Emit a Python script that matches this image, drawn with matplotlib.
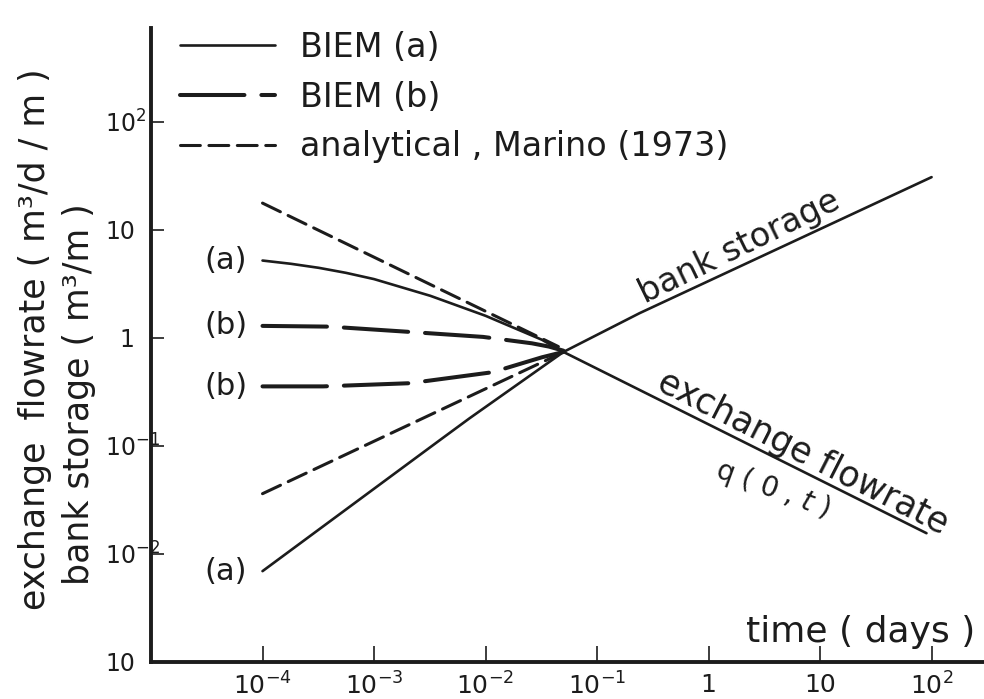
#!/usr/bin/env python

import numpy as np
import matplotlib.pyplot as plt

# exchange flowrate q(0,t)
t_q_a = [1e-4, 1.8e-4, 3.2e-4, 5.6e-4, 1e-3, 3.2e-3, 1e-2, 3.2e-2, 5e-2, 90]
q_a = [5.2, 4.85, 4.45, 4.0, 3.5, 2.45, 1.6, 0.96, 0.74, 0.0155]
t_q_b = [1e-4, 4e-4, 1.95e-3, 9.5e-3, 0.026, 0.037, 0.05]
q_b = [1.29, 1.27, 1.14, 1.02, 0.89, 0.83, 0.76]
t_q_an = [1e-4, 0.045]
q_an = [17.7, 0.83]

# bank storage
t_s_a = [1e-4, 3.9e-3, 7.2e-3, 5e-2, 0.24, 100]
s_a = [0.0069, 0.113, 0.18, 0.74, 1.69, 30.8]
t_s_b = [1e-4, 3.5e-4, 2.1e-3, 0.0115, 0.032, 0.05]
s_b = [0.355, 0.355, 0.38, 0.48, 0.66, 0.74]
t_s_an = [1e-4, 0.045]
s_an = [0.036, 0.70]

xticks = [1e-4, 1e-3, 1e-2, 1e-1, 1, 10, 100]
xticklabels = [r"$10^{-4}$", r"$10^{-3}$", r"$10^{-2}$", r"$10^{-1}$", "1", "10", r"$10^{2}$"]
yticks = [1e-3, 1e-2, 1e-1, 1, 10, 100]
yticklabels = ["10", r"$10^{-2}$", r"$10^{-1}$", "\u20071", "10", r"$10^{2}$"]

def main():
    plt.rcParams["font.family"] = "DejaVu Sans"
    plt.rcParams["mathtext.fontset"] = "dejavusans"
    ink = "#1c1c1c"

    fig = plt.figure(figsize=(9.84, 6.99), dpi=100)
    ax = fig.add_axes([151/984, 37.3/699, (984-151)/984, (661.7-28)/699])
    ax.set_xscale("log")
    ax.set_yscale("log")
    ax.set_xlim(1e-5, 10**2.47)
    ax.set_ylim(1e-3, 10**2.87)

    sty_a = dict(color=ink, lw=1.9, ls="-", solid_capstyle="round")
    sty_b = dict(color=ink, lw=2.9, ls=(0, (16, 4.2)), dash_capstyle="round")
    sty_an = dict(color=ink, lw=2.2, ls=(0, (6.5, 2.8)), dash_capstyle="round")

    la, = ax.plot(t_q_a, q_a, **sty_a)
    ax.plot(t_s_a, s_a, **sty_a)
    lb, = ax.plot(t_q_b, q_b, **sty_b)
    ax.plot(t_s_b, s_b, **sty_b)
    lan, = ax.plot(t_q_an, q_an, **sty_an)
    ax.plot(t_s_an, s_an, **sty_an)

    # curve tags at the left end
    for t, v, tag in [(t_q_a[0], q_a[0], "(a)"), (t_q_b[0], q_b[0], "(b)"),
                      (t_s_b[0], s_b[0], "(b)"), (t_s_a[0], s_a[0], "(a)")]:
        ax.annotate(tag, (t, v), xytext=(-11, 0), textcoords="offset points",
                    ha="right", va="center", fontsize=22, color=ink)

    ax.text(1.9, 6.9, "bank storage", rotation=26, ha="center", va="center",
            rotation_mode="anchor", fontsize=24, color=ink)
    ax.text(7.0, 0.0857, "exchange flowrate", rotation=-27, ha="center", va="center",
            rotation_mode="anchor", fontsize=25, color=ink)
    ax.text(3.75, 0.039, "q ( 0 , $t$ )", rotation=-20, ha="center", va="center",
            rotation_mode="anchor", fontsize=20, color=ink)

    ax.legend([la, lb, lan], ["BIEM (a)", "BIEM (b)", "analytical , Marino (1973)"],
              loc="upper left", bbox_to_anchor=(180/984, 1-31/699),
              bbox_transform=fig.transFigure, frameon=False, fontsize=24,
              handlelength=2.85, handletextpad=0.75, labelspacing=0.5,
              borderpad=0, borderaxespad=0, labelcolor=ink)

    for s in ["top", "right"]:
        ax.spines[s].set_visible(False)
    for s in ["left", "bottom"]:
        ax.spines[s].set_linewidth(2.8)
        ax.spines[s].set_color(ink)

    ax.set_xticks(xticks)
    ax.set_xticklabels(xticklabels)
    ax.set_yticks(yticks)
    ax.set_yticklabels(yticklabels)
    ax.minorticks_off()
    ax.tick_params(axis="x", direction="in", length=11.5, width=1.2, pad=8,
                   labelsize=18, colors=ink)
    ax.tick_params(axis="y", direction="in", length=9, width=1.2, pad=33,
                   labelsize=17, colors=ink)
    for lab in ax.get_yticklabels():
        lab.set_horizontalalignment("left")

    fig.text(35/984, 1-610/699, "exchange  flowrate ( m³/d / m )", rotation=90,
             ha="center", va="bottom", fontsize=25, color=ink)
    fig.text(79/984, 1-585/699, "bank storage ( m³/m )", rotation=90,
             ha="center", va="bottom", fontsize=25, color=ink)
    fig.text(975/984, 1-632/699, "time ( days )", ha="right", va="center",
             fontsize=26, color=ink)

    fig.savefig("out.png", dpi=100)
    plt.close()

if __name__ == "__main__":
    main()
